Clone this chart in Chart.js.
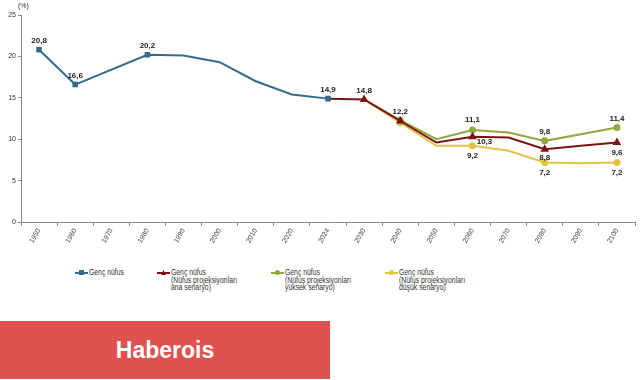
<!DOCTYPE html>
<html><head><meta charset="utf-8">
<script src="https://cdn.jsdelivr.net/npm/chart.js@4"></script>
<style>
body{margin:0;background:#fff;width:641px;height:380px;overflow:hidden;position:relative;font-family:"Liberation Sans",Arial,sans-serif;}
#wrap{position:absolute;left:0;top:0;width:641px;height:252px;}
.lg{position:absolute;}
.lg .sw{position:absolute;left:-14px;top:4px;width:13px;height:2px;}
.lg .mk{position:absolute;left:-10px;top:2px;width:5px;height:5px;}
.lg .tx{position:absolute;left:0;top:0;font-size:9.5px;line-height:7.6px;color:#333;white-space:nowrap;transform:scaleX(0.72);transform-origin:0 0;}
#banner{position:absolute;left:0;top:321px;width:330px;height:58px;background:#e05252;color:#fff;font-weight:bold;font-size:23px;line-height:58px;text-align:center;}
#pct{position:absolute;left:18px;top:2px;font-size:7px;color:#333;}
</style></head>
<body>
<div id="wrap"><canvas id="c"></canvas></div>
<div id="pct">(%)</div>
<div class="lg" style="left:89px;top:268px;"><span class="sw" style="background:#336b8c"></span><span class="mk" style="background:#336b8c"></span><div class="tx">Genç nüfus</div></div>
<div class="lg" style="left:171px;top:268px;"><span class="sw" style="background:#7a1414"></span><span class="mk" style="background:#7a1414;clip-path:polygon(50% 0,100% 100%,0 100%)"></span><div class="tx">Genç nüfus<br>(Nüfus projeksiyonları<br>ana senaryo)</div></div>
<div class="lg" style="left:285px;top:268px;"><span class="sw" style="background:#8fa83c"></span><span class="mk" style="background:#8fa83c;border-radius:50%"></span><div class="tx">Genç nüfus<br>(Nüfus projeksiyonları<br>yüksek senaryo)</div></div>
<div class="lg" style="left:399px;top:268px;"><span class="sw" style="background:#e2c445"></span><span class="mk" style="background:#e2c445;border-radius:50%"></span><div class="tx">Genç nüfus<br>(Nüfus projeksiyonları<br>düşük senaryo)</div></div>
<div id="banner">Haberois</div>
<script>
const categories = ['1950','1960','1970','1980','1990','2000','2010','2020','2024','2030','2040','2050','2060','2070','2080','2090','2100'];
const youngPop   = [20.8, 16.6, null, 20.2, 20.1, 19.3, 17.0, 15.4, 14.9, null, null, null, null, null, null, null, null];
const mainScen   = [null, null, null, null, null, null, null, null, 14.9, 14.8, 12.2, 9.6, 10.3, 10.2, 8.8, 9.2, 9.6];
const highScen   = [null, null, null, null, null, null, null, null, null, 14.8, 12.3, 10.0, 11.1, 10.8, 9.8, 10.6, 11.4];
const lowScen    = [null, null, null, null, null, null, null, null, null, 14.8, 12.0, 9.2, 9.2, 8.6, 7.2, 7.1, 7.2];
const yTicks = [0, 5, 10, 15, 20, 25];

// value labels: [dataset index, category index, text, dx, dy]
const valueLabels = [
  [0,0,'20,8',0,-9],[0,1,'16,6',0,-9],[0,3,'20,2',0,-9],[0,8,'14,9',0,-9],
  [1,9,'14,8',0,-9],[1,10,'12,2',0,-9],
  [2,12,'11,1',0,-10],[1,12,'10,3',12,5],[3,12,'9,2',0,10],
  [2,14,'9,8',0,-9],[1,14,'8,8',0,9],[3,14,'7,2',0,10],
  [2,16,'11,4',0,-9],[1,16,'9,6',0,10],[3,16,'7,2',0,10]
];

const blueR = categories.map((c,i)=>[0,1,3,8].includes(i)?2.5:0);
const projR = categories.map((c,i)=>[10,12,14,16].includes(i)?2.5:0);
const redR  = categories.map((c,i)=>[9,10,12,14,16].includes(i)?3:0);

const labelPlugin = {
  id:'vl',
  afterDatasetsDraw(chart){
    const ctx = chart.ctx, xs = chart.scales.x, ys = chart.scales.y;
    const sets = [youngPop, mainScen, highScen, lowScen];
    ctx.save();
    ctx.font = 'bold 8px "Liberation Sans", Arial, sans-serif';
    ctx.fillStyle = '#222';
    ctx.textAlign = 'center';
    ctx.textBaseline = 'middle';
    valueLabels.forEach(([d,i,t,dx,dy])=>{
      const v = sets[d][i];
      ctx.fillText(t, xs.getPixelForValue(i)+dx, ys.getPixelForValue(v)+dy);
    });
    ctx.restore();
  }
};

new Chart(document.getElementById('c'), {
  type:'line',
  data:{
    labels:categories,
    datasets:[
      {label:'Genç nüfus (düşük)', data:lowScen, borderColor:'#e2c445', backgroundColor:'#e2c445', borderWidth:2, pointRadius:projR, pointStyle:'circle', order:4},
      {label:'Genç nüfus (yüksek)', data:highScen, borderColor:'#8fa83c', backgroundColor:'#8fa83c', borderWidth:2, pointRadius:projR, pointStyle:'circle', order:3},
      {label:'Genç nüfus (ana)', data:mainScen, borderColor:'#7a1414', backgroundColor:'#7a1414', borderWidth:2, pointRadius:redR, pointStyle:'triangle', order:2},
      {label:'Genç nüfus', data:youngPop, borderColor:'#336b8c', backgroundColor:'#336b8c', borderWidth:2, pointRadius:blueR, pointStyle:'rect', spanGaps:true, order:1}
    ]
  },
  options:{
    responsive:true, maintainAspectRatio:false, animation:false,
    layout:{padding:{top:15,right:3,left:0,bottom:0}},
    plugins:{legend:{display:false}, tooltip:{enabled:false}},
    elements:{line:{tension:0}},
    scales:{
      x:{
        offset:true,
        grid:{display:true, drawOnChartArea:false, offset:true, tickLength:4, color:'#888'},
        border:{color:'#888'},
        ticks:{font:{size:7, family:'"Liberation Sans", Arial'}, color:'#444', minRotation:60, maxRotation:60, autoSkip:false, padding:1},
        afterFit(s){ s.height = 30; }
      },
      y:{
        min:0, max:25,
        afterBuildTicks(s){ s.ticks = yTicks.map(v=>({value:v})); },
        grid:{display:true, drawOnChartArea:false, tickLength:3, color:'#888'},
        border:{color:'#888'},
        ticks:{font:{size:7, family:'"Liberation Sans", Arial'}, color:'#333', padding:2},
        afterFit(s){ s.width = 21; }
      }
    }
  },
  plugins:[labelPlugin]
});
</script>
</body></html>
